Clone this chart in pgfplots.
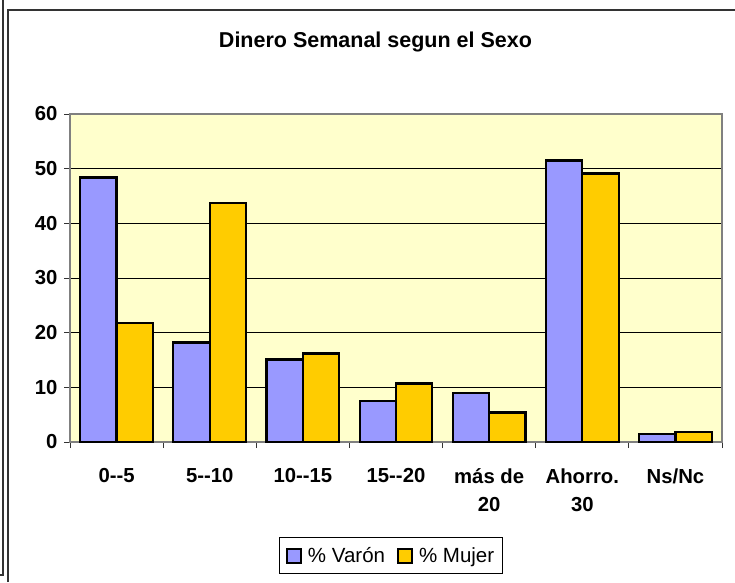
\documentclass[border=0pt]{standalone}
\usepackage{pgfplots}
\pgfplotsset{compat=1.18}
\usepackage{fontspec}
\setmainfont{Liberation Sans}

\definecolor{varon}{HTML}{9999FF}
\definecolor{mujer}{HTML}{FFCC00}
\definecolor{fondo}{HTML}{FFFFCC}
\definecolor{ejes}{HTML}{808080}

\begin{document}
\begin{tikzpicture}[x=1pt,y=1pt]
\useasboundingbox (0,0) rectangle (735,582);
% marco exterior
\draw[line width=1.3pt,black!80] (3,582) -- (3,7) -- (0,7);
\draw[line width=1.5pt,black!80] (8,0) -- (8,572) -- (735,572);
\node[anchor=base,font=\fontsize{21.5}{25}\selectfont\bfseries] at (375.5,534.3) {Dinero Semanal segun el Sexo};

\begin{axis}[
    at={(70pt,140pt)}, anchor=south west,
    scale only axis, width=652pt, height=328pt,
    axis background/.style={fill=fondo},
    axis line style={ejes, line width=1.3pt},
    ybar=0pt, bar width=0.39,
    xmin=-0.5, xmax=6.5,
    ymin=0, ymax=60,
    ytick={0,10,...,60},
    xtick={-0.5,0.5,...,6.5},
    x tick label as interval,
    xticklabels={0-{}-5,5-{}-10,10-{}-15,15-{}-20,{más de\\[4pt]20},{Ahorro.\\[4pt]30},Ns/Nc},
    tick pos=left, tick align=outside,
    major tick length=6pt,
    tick style={black!80, line width=1pt},
    ymajorgrids, major grid style={black, line width=0.9pt},
    ticklabel style={font=\fontsize{20.3}{24}\selectfont\bfseries},
    xticklabel style={align=center, yshift=-17pt},
    yticklabel style={xshift=-3pt},
    /pgf/number format/assume math mode=true,
    legend columns=2,
    legend style={at={(0.4925,-0.3465)}, anchor=center, draw=black, line width=1pt,
        font=\fontsize{20.5}{24}\selectfont, inner xsep=6pt, inner ysep=8pt,
        /tikz/every odd column/.append style={column sep=4pt},
        /tikz/every even column/.append style={column sep=10pt}},
]
\addplot[fill=varon, draw=black, line width=2.2pt,
    legend image code/.code={\draw[fill=varon,draw=black,line width=2pt] (0pt,-7pt) rectangle (14pt,7pt);}]
    coordinates {(0,48.4) (1,18.2) (2,15.1) (3,7.5) (4,9.0) (5,51.5) (6,1.5)};
\addplot[fill=mujer, draw=black, line width=2.2pt,
    legend image code/.code={\draw[fill=mujer,draw=black,line width=2pt] (0pt,-7pt) rectangle (14pt,7pt);}]
    coordinates {(0,21.7) (1,43.7) (2,16.2) (3,10.7) (4,5.4) (5,49.1) (6,1.8)};
\legend{\% Varón,\% Mujer}
\end{axis}
\end{tikzpicture}
\end{document}
